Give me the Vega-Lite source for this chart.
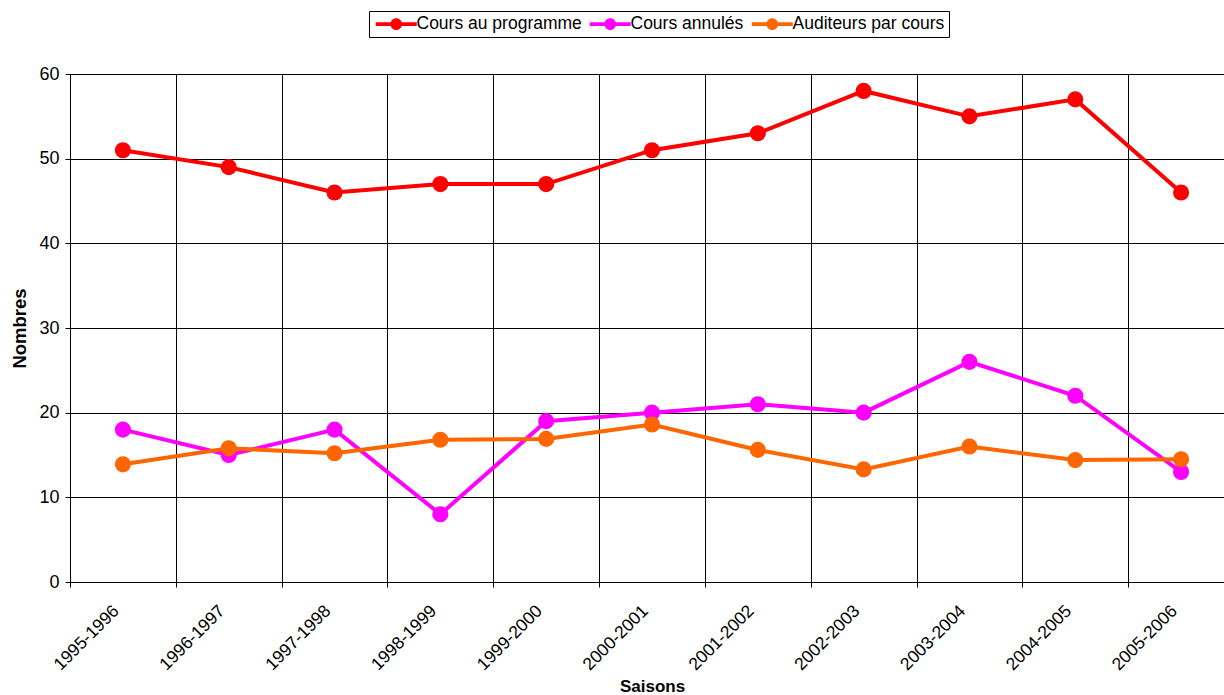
{
  "$schema": "https://vega.github.io/schema/vega-lite/v6.json",
  "autosize": "none",
  "width": 1154,
  "height": 508,
  "padding": {"left": 70, "top": 74, "right": 0, "bottom": 113},
  "background": "white",
  "config": {
    "view": {"stroke": null},
    "font": "Liberation Sans"
  },
  "data": {
    "values": [
      {"saison": "1995-1996", "serie": "Cours au programme", "valeur": 51},
      {"saison": "1996-1997", "serie": "Cours au programme", "valeur": 49},
      {"saison": "1997-1998", "serie": "Cours au programme", "valeur": 46},
      {"saison": "1998-1999", "serie": "Cours au programme", "valeur": 47},
      {"saison": "1999-2000", "serie": "Cours au programme", "valeur": 47},
      {"saison": "2000-2001", "serie": "Cours au programme", "valeur": 51},
      {"saison": "2001-2002", "serie": "Cours au programme", "valeur": 53},
      {"saison": "2002-2003", "serie": "Cours au programme", "valeur": 58},
      {"saison": "2003-2004", "serie": "Cours au programme", "valeur": 55},
      {"saison": "2004-2005", "serie": "Cours au programme", "valeur": 57},
      {"saison": "2005-2006", "serie": "Cours au programme", "valeur": 46},
      {"saison": "1995-1996", "serie": "Cours annulés", "valeur": 18},
      {"saison": "1996-1997", "serie": "Cours annulés", "valeur": 15},
      {"saison": "1997-1998", "serie": "Cours annulés", "valeur": 18},
      {"saison": "1998-1999", "serie": "Cours annulés", "valeur": 8},
      {"saison": "1999-2000", "serie": "Cours annulés", "valeur": 19},
      {"saison": "2000-2001", "serie": "Cours annulés", "valeur": 20},
      {"saison": "2001-2002", "serie": "Cours annulés", "valeur": 21},
      {"saison": "2002-2003", "serie": "Cours annulés", "valeur": 20},
      {"saison": "2003-2004", "serie": "Cours annulés", "valeur": 26},
      {"saison": "2004-2005", "serie": "Cours annulés", "valeur": 22},
      {"saison": "2005-2006", "serie": "Cours annulés", "valeur": 13},
      {"saison": "1995-1996", "serie": "Auditeurs par cours", "valeur": 13.9},
      {"saison": "1996-1997", "serie": "Auditeurs par cours", "valeur": 15.8},
      {"saison": "1997-1998", "serie": "Auditeurs par cours", "valeur": 15.2},
      {"saison": "1998-1999", "serie": "Auditeurs par cours", "valeur": 16.8},
      {"saison": "1999-2000", "serie": "Auditeurs par cours", "valeur": 16.9},
      {"saison": "2000-2001", "serie": "Auditeurs par cours", "valeur": 18.6},
      {"saison": "2001-2002", "serie": "Auditeurs par cours", "valeur": 15.6},
      {"saison": "2002-2003", "serie": "Auditeurs par cours", "valeur": 13.3},
      {"saison": "2003-2004", "serie": "Auditeurs par cours", "valeur": 16.0},
      {"saison": "2004-2005", "serie": "Auditeurs par cours", "valeur": 14.4},
      {"saison": "2005-2006", "serie": "Auditeurs par cours", "valeur": 14.5}
    ]
  },
  "mark": {"type": "line", "strokeWidth": 4, "point": {"filled": true, "size": 260, "opacity": 1}},
  "encoding": {
    "x": {
      "field": "saison", "type": "ordinal", "bandPosition": 0.5,
      "scale": {"type": "band", "paddingInner": 0, "paddingOuter": 0, "range": [0, 1164]},
      "axis": {
        "title": "Saisons", "titleFont": "Liberation Sans", "titleFontSize": 17, "titleFontWeight": "bold", "titleColor": "black",
        "titleY": 104, "titleBaseline": "middle",
        "tickBand": "extent", "grid": true, "gridColor": "black", "gridOpacity": 1,
        "domainColor": "black", "tickColor": "black", "tickSize": 5,
        "labelFont": "Liberation Sans", "labelFontSize": 17.5, "labelColor": "black",
        "labelAngle": -45, "labelAlign": "right", "labelBaseline": "middle", "labelOffset": -7, "labelPadding": 21
      }
    },
    "y": {
      "field": "valeur", "type": "quantitative",
      "scale": {"domain": [0, 60]},
      "axis": {
        "title": "Nombres", "titleFont": "Liberation Sans", "titleFontSize": 18.5, "titleFontWeight": "bold", "titleColor": "black",
        "titleX": -51, "titleBaseline": "middle",
        "values": [0, 10, 20, 30, 40, 50, 60],
        "grid": true, "gridColor": "black", "gridOpacity": 1,
        "domainColor": "black", "tickColor": "black", "tickSize": 5,
        "labelFont": "Liberation Sans", "labelFontSize": 18, "labelColor": "black", "labelPadding": 6
      }
    },
    "color": {
      "field": "serie", "type": "nominal",
      "scale": {"domain": ["Cours au programme", "Cours annulés", "Auditeurs par cours"], "range": ["#FF0000", "#FF00FF", "#FF6600"]},
      "legend": {
        "title": null, "orient": "none", "legendX": 299, "legendY": -63, "direction": "horizontal",
        "strokeColor": "black", "fillColor": "white", "padding": 4,
        "labelFont": "Liberation Sans", "labelFontSize": 17.5, "labelColor": "black", "labelLimit": 400,
        "symbolType": "M-1,-0.33H5.83V0.33H-1Z M3.38,0A0.96,0.96 0 1 1 1.46,0A0.96,0.96 0 1 1 3.38,0Z",
        "symbolSize": 144, "symbolStrokeWidth": 0, "labelOffset": 26, "columnPadding": 5,
        "encode": {"symbols": {"update": {"fill": {"scale": "color", "field": "value"}, "opacity": {"value": 1}}}}
      }
    }
  }
}
